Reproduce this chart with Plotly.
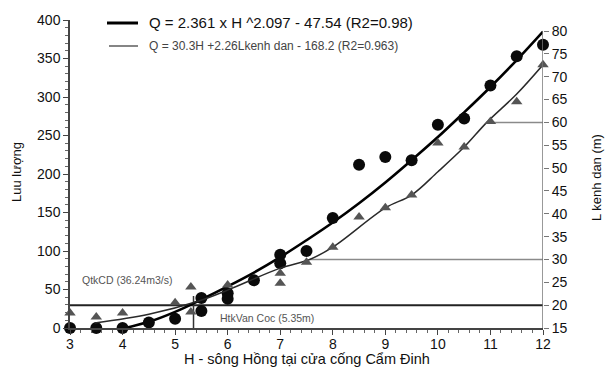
import plotly.graph_objects as go

# ---- observed discharge Q (left axis) ----
obs_h = [3, 3.5, 4, 4.5, 5, 5.5, 5.5, 6, 6, 6.5, 7, 7, 7.5, 8, 8.5, 9, 9.5, 10, 10.5, 11, 11.5, 12]
obs_q = [0, 0, 0, 7, 12, 39, 22, 45, 38, 62, 95, 84, 100, 143, 212, 222, 218, 264, 272, 315, 353, 368]

# ---- canal length L (right axis) ----
len_h = [3, 3.5, 4, 5, 5.3, 5.3, 6, 7, 7, 7.5, 8, 8.5, 9, 9.5, 10, 10.5, 11, 11.5, 12]
len_l = [18.3, 17.4, 18.3, 20.5, 24.0, 18.5, 24.4, 27.0, 24.8, 29.4, 32.7, 39.3, 41.3, 44.1, 55.5, 54.6, 60.2, 64.5, 72.6]

# ---- fitted curve 1: Q = 2.361 x H^2.097 - 47.54 ----
fit1_h = [4.05, 4.5, 5, 5.5, 6, 6.5, 7, 7.5, 8, 8.5, 9, 9.5, 10, 10.5, 11, 11.5, 12]
fit1_q = [0, 8, 21, 37, 54, 72, 92, 114, 137, 162, 189, 218, 248, 280, 313, 348, 385]

# ---- fitted curve 2 (right-axis units) ----
fit2_h = [3.47, 4.5, 5.45, 6, 7, 7.56, 8, 9, 9.5, 10, 10.5, 10.93, 11.5, 12]
fit2_l = [16.1, 18.0, 20.9, 23.3, 28.1, 30, 32.7, 41.3, 44.1, 49.2, 54.6, 60, 66.2, 72.6]

# ---- reference levels ----
q_design_level = 20      # on L axis
h_vancoc = 5.35
l_mark_1 = 30
l_mark_1_h = 7.56
l_mark_2 = 60
l_mark_2_h = 10.93

x_ticks = [3, 4, 5, 6, 7, 8, 9, 10, 11, 12]
left_ticks = [0, 50, 100, 150, 200, 250, 300, 350, 400]
right_ticks = [15, 20, 25, 30, 35, 40, 45, 50, 55, 60, 65, 70, 75, 80]

legend_1 = "Q = 2.361 x H ^2.097 - 47.54 (R2=0.98)"
legend_2 = "Q = 30.3H +2.26Lkenh dan - 168.2 (R2=0.963)"
label_q = "QtkCD (36.24m3/s)"
label_h = "HtkVan Coc (5.35m)"
x_title = "H - sông Hồng tại cửa cống Cẩm Đinh"
y_title = "Luu lượng"
y2_title = "L kenh dan (m)"

FONT = "Liberation Sans, Arial, sans-serif"
PL, PT, PW, PH = 70, 20, 473, 308   # plot area in pixels


def px(xp):
    return (xp - PL) / PW


def py(yp):
    return (PT + PH - yp) / PH


fig = go.Figure()

fig.add_trace(go.Scatter(x=fit2_h, y=fit2_l, yaxis="y2", mode="lines",
                         line=dict(color="#2a2a2a", width=1.5, shape="spline"),
                         showlegend=False, hoverinfo="skip"))
fig.add_trace(go.Scatter(x=fit1_h, y=fit1_q, mode="lines",
                         line=dict(color="#000000", width=2.6, shape="spline"),
                         showlegend=False, hoverinfo="skip"))
fig.add_trace(go.Scatter(x=len_h, y=len_l, yaxis="y2", mode="markers", cliponaxis=False,
                         marker=dict(symbol="triangle-up", size=10, color="#555555"),
                         showlegend=False))
fig.add_trace(go.Scatter(x=obs_h, y=obs_q, mode="markers", cliponaxis=False,
                         marker=dict(symbol="circle", size=12, color="#0a0a0a"),
                         showlegend=False))

shapes = [
    dict(type="line", xref="x", yref="y2", x0=3, x1=12, y0=q_design_level, y1=q_design_level,
         line=dict(color="#222222", width=2), layer="below"),
    dict(type="line", xref="x", yref="y2", x0=h_vancoc, x1=h_vancoc, y0=15, y1=22,
         line=dict(color="#333333", width=1.5), layer="below"),
    dict(type="line", xref="x", yref="y2", x0=l_mark_1_h, x1=12, y0=l_mark_1, y1=l_mark_1,
         line=dict(color="#8a8a8a", width=1.5), layer="below"),
    dict(type="line", xref="x", yref="y2", x0=l_mark_2_h, x1=12, y0=l_mark_2, y1=l_mark_2,
         line=dict(color="#8a8a8a", width=1.5), layer="below"),
    dict(type="line", xref="x", yref="y2", x0=12, x1=12, y0=15, y1=80,
         line=dict(color="#777777", width=1.5)),
    dict(type="line", xref="paper", yref="paper", x0=px(107), x1=px(138),
         y0=py(23), y1=py(23), line=dict(color="#000000", width=3)),
    dict(type="line", xref="paper", yref="paper", x0=px(109), x1=px(138),
         y0=py(46), y1=py(46), line=dict(color="#333333", width=1.2)),
]

annotations = [
    dict(xref="paper", yref="paper", x=px(147), y=py(23), xanchor="left", yanchor="middle",
         text=legend_1, showarrow=False, font=dict(family=FONT, size=15, color="#111111")),
    dict(xref="paper", yref="paper", x=px(147), y=py(46), xanchor="left", yanchor="middle",
         text=legend_2, showarrow=False, font=dict(family=FONT, size=12, color="#444444")),
    dict(xref="paper", yref="paper", x=px(80), y=py(280), xanchor="left", yanchor="middle",
         text=label_q, showarrow=False, font=dict(family=FONT, size=10.5, color="#555555")),
    dict(xref="paper", yref="paper", x=px(218), y=py(318), xanchor="left", yanchor="middle",
         text=label_h, showarrow=False, font=dict(family=FONT, size=10.5, color="#555555")),
    dict(xref="paper", yref="paper", x=px(307), y=py(359), xanchor="center", yanchor="middle",
         text=x_title, showarrow=False, font=dict(family=FONT, size=14.5, color="#111111")),
    dict(xref="paper", yref="paper", x=px(16), y=py(172), xanchor="center", yanchor="middle",
         text=y_title, textangle=-90, showarrow=False, font=dict(family=FONT, size=13, color="#111111")),
    dict(xref="paper", yref="paper", x=px(596), y=py(178), xanchor="center", yanchor="middle",
         text=y2_title, textangle=-90, showarrow=False, font=dict(family=FONT, size=13, color="#111111")),
]

fig.update_layout(
    width=608, height=367, autosize=False,
    margin=dict(l=PL, r=608 - PL - PW, t=PT, b=367 - PT - PH, pad=0),
    paper_bgcolor="white", plot_bgcolor="white",
    font=dict(family=FONT, size=14, color="#111111"),
    showlegend=False,
    shapes=shapes, annotations=annotations,
    xaxis=dict(range=[3, 12], tickvals=x_ticks, ticks="outside", ticklen=5, tickwidth=1.2,
               tickcolor="#444444", showline=True, linecolor="#444444", linewidth=1.5,
               showgrid=False, zeroline=False, tickfont=dict(size=14), automargin=False,
               ticklabelstandoff=-3,
               minor=dict(dtick=0.2, ticks="outside", ticklen=3, tickcolor="#666666", showgrid=False)),
    yaxis=dict(range=[0, 400], tickvals=left_ticks, ticks="outside", ticklen=5, tickwidth=1.2,
               tickcolor="#444444", showline=True, linecolor="#444444", linewidth=1.5,
               showgrid=False, zeroline=False, tickfont=dict(size=14), automargin=False,
               minor=dict(dtick=10, ticks="outside", ticklen=3, tickcolor="#666666", showgrid=False)),
    yaxis2=dict(range=[15, 15 + 308 / 4.569], overlaying="y", side="right", anchor="x",
                tickvals=right_ticks, ticks="outside", ticklen=5, tickwidth=1.2, tickcolor="#777777",
                showline=False, showgrid=False, zeroline=False, tickfont=dict(size=14),
                automargin=False),
)

fig.write_html("out.html", config={"displayModeBar": False},
               post_script="document.body.style.margin='0px';document.body.style.padding='0px';")
